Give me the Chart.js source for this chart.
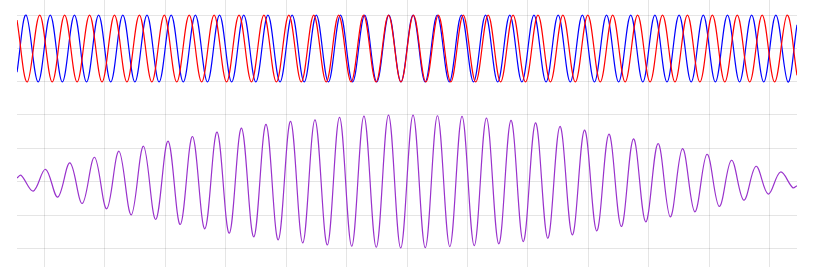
<!DOCTYPE html>
<html>
<head>
<meta charset="utf-8">
<script src="https://cdn.jsdelivr.net/npm/chart.js@4/dist/chart.umd.min.js"></script>
<style>
	html, body { margin: 0; padding: 0; background: #fff; }
	#box { width: 813px; height: 267px; position: relative; }
</style>
</head>
<body>
<div id="box"><canvas id="myChart"></canvas></div>
<script>
	// time axis (ms), grid every 50 ms
	var timeMin = -22.5;
	var timeMax = 622.5;
	var timeStep = 50;

	// red wave: turning points, plus both ends
	var redX = [-22.5, -14.0, -3.7, 6.6, 16.9, 27.2, 37.5, 47.8, 58.1, 68.4, 78.7, 89.0, 99.3, 109.6, 119.9, 130.2,
		140.5, 150.8, 161.1, 171.4, 181.7, 192.0, 202.3, 212.6, 222.9, 233.2, 243.5, 253.8, 264.1, 274.4, 284.7,
		295.0, 305.3, 315.6, 325.9, 336.2, 346.5, 356.8, 367.1, 377.4, 387.7, 398.0, 408.3, 418.6, 428.9, 439.2,
		449.5, 459.8, 470.1, 480.4, 490.7, 501.0, 511.3, 521.6, 531.9, 542.2, 552.5, 562.8, 573.1, 583.4, 593.7,
		604.0, 614.3, 622.5];
	var redY = [0.85, -1, 1, -1, 1, -1, 1, -1, 1, -1, 1, -1, 1, -1, 1, -1, 1, -1, 1, -1, 1, -1, 1, -1, 1, -1, 1,
		-1, 1, -1, 1, -1, 1, -1, 1, -1, 1, -1, 1, -1, 1, -1, 1, -1, 1, -1, 1, -1, 1, -1, 1, -1, 1, -1, 1, -1, 1,
		-1, 1, -1, 1, -1, 1, -0.80];

	// blue wave
	var blueX = [-22.5, -15, -5, 5, 15, 25, 35, 45, 55, 65, 75, 85, 95, 105, 115, 125, 135, 145, 155, 165, 175,
		185, 195, 205, 215, 225, 235, 245, 255, 265, 275, 285, 295, 305, 315, 325, 335, 345, 355, 365, 375, 385,
		395, 405, 415, 425, 435, 445, 455, 465, 475, 485, 495, 505, 515, 525, 535, 545, 555, 565, 575, 585, 595,
		605, 615, 622.5];
	var blueY = [-0.71, 1, -1, 1, -1, 1, -1, 1, -1, 1, -1, 1, -1, 1, -1, 1, -1, 1, -1, 1, -1, 1, -1, 1, -1, 1, -1,
		1, -1, 1, -1, 1, -1, 1, -1, 1, -1, 1, -1, 1, -1, 1, -1, 1, -1, 1, -1, 1, -1, 1, -1, 1, -1, 1, -1, 1, -1,
		1, -1, 1, -1, 1, -1, 1, -1, 0.71];

	// purple (sum) wave
	var sumX = [-22.5, -19.2, -9.1, 1.1, 11.2, 21.3, 31.5, 41.6, 51.7, 61.8, 72.0, 82.1, 92.2, 102.4, 112.5, 122.6,
		132.8, 142.9, 153.0, 163.1, 173.3, 183.4, 193.5, 203.7, 213.8, 223.9, 234.1, 244.2, 254.3, 264.4, 274.6,
		284.7, 294.8, 305.0, 315.1, 325.2, 335.4, 345.5, 355.6, 365.7, 375.9, 386.0, 396.1, 406.3, 416.4, 426.5,
		436.7, 446.8, 456.9, 467.0, 477.2, 487.3, 497.4, 507.6, 517.7, 527.8, 538.0, 548.1, 558.2, 568.3, 578.5,
		588.6, 598.7, 608.9, 619.0, 622.5];
	var sumY = [0.11, 0.19, -0.28, 0.37, -0.46, 0.56, -0.65, 0.73, -0.81, 0.91, -0.99, 1.06, -1.13, 1.21, -1.28,
		1.35, -1.41, 1.48, -1.54, 1.60, -1.65, 1.71, -1.74, 1.80, -1.83, 1.85, -1.89, 1.92, -1.93, 1.96, -1.96,
		1.99, -1.98, 1.99, -1.97, 1.97, -1.94, 1.95, -1.91, 1.90, -1.86, 1.83, -1.79, 1.76, -1.69, 1.65, -1.59,
		1.54, -1.47, 1.42, -1.34, 1.28, -1.20, 1.14, -1.05, 0.99, -0.90, 0.82, -0.74, 0.64, -0.55, 0.46, -0.37,
		0.29, -0.18, -0.12];

	function pts(xs, ys) {
		var out = [];
		xs.forEach(function(x, i) {
			out.push({ x : x, y : ys[i] });
		});
		return out;
	}

	function wave(label, xs, ys, color, axis) {
		return {
			label : label,
			data : pts(xs, ys),
			yAxisID : axis,
			borderColor : color,
			borderWidth : 1.2,
			pointRadius : 0,
			tension : 0.363,
			fill : false,
		};
	}

	const config = {
		type : 'line',
		data : {
			datasets : [
				wave('red', redX, redY, 'rgb(255, 0, 0)', 'yTop'),
				wave('blue', blueX, blueY, 'rgb(0, 0, 255)', 'yTop'),
				wave('sum', sumX, sumY, 'rgb(153, 50, 204)', 'yBottom'),
			]
		},
		options : {
			responsive : true,
			maintainAspectRatio : false,
			animation : false,
			layout : {
				padding : { left : 17, right : 16, top : 0, bottom : 0 },
			},
			plugins : {
				legend : { display : false },
				tooltip : { enabled : false },
			},
			scales : {
				x : {
					type : 'linear',
					min : timeMin,
					max : timeMax,
					ticks : { display : false, stepSize : timeStep, includeBounds : false },
					grid : { drawTicks : false },
					border : { display : false },
				},
				yTop : {
					type : 'linear',
					position : 'right',
					stack : 'waves',
					stackWeight : 2.9,
					min : -1.45,
					max : 1.45,
					ticks : { display : false, stepSize : 1, includeBounds : false },
					grid : { drawTicks : false },
					border : { display : false },
				},
				yBottom : {
					type : 'linear',
					position : 'right',
					stack : 'waves',
					stackWeight : 5.08,
					min : -2.55,
					max : 2.53,
					ticks : { display : false, stepSize : 1, includeBounds : false },
					grid : { drawTicks : false },
					border : { display : false },
				},
			},
		},
	};

	var myChart = new Chart(document.getElementById('myChart'), config);
</script>
</body>
</html>
